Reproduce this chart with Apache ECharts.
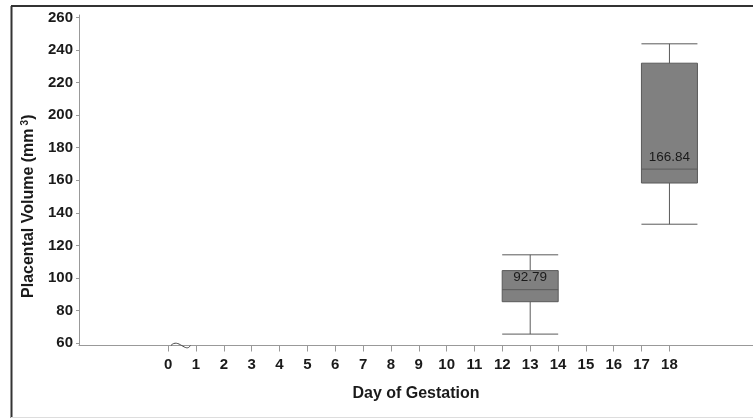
<!DOCTYPE html>
<html>
<head>
<meta charset="utf-8">
<script src="https://cdn.jsdelivr.net/npm/echarts@6/dist/echarts.min.js"></script>
<style>
  html, body { margin: 0; padding: 0; background: #fff; }
  #myChart { width: 753px; height: 418px; }
</style>
</head>
<body>
<div id="myChart"></div>
<script>
// 数据
var days = [13, 18];
var whiskerLow = [65.5, 133];
var q1 = [85.4, 158.3];
var medians = [92.79, 166.84];
var q3 = [104.5, 231.9];
var whiskerHigh = [114.2, 243.8];

var xTicks = [0, 1, 2, 3, 4, 5, 6, 7, 8, 9, 10, 11, 12, 13, 14, 15, 16, 17, 18];
var yTicks = [60, 80, 100, 120, 140, 160, 180, 200, 220, 240, 260];

var boxData = days.map(function (d, i) {
  return [d, whiskerLow[i], q1[i], medians[i], q3[i], whiskerHigh[i]];
});
var medianLabels = days.map(function (d, i) {
  return [d, medians[i]];
});

var myChart = echarts.init(document.getElementById('myChart'));

var FONT = 'Liberation Sans, Arial, sans-serif';
var labelFont = {
  fontFamily: FONT,
  fontWeight: 'bold',
  fontSize: 15,
  color: '#1a1a1a'
};

myChart.setOption({
  animation: false,
  grid: { left: 79, right: 0, top: 15, bottom: 72.5 },
  xAxis: {
    type: 'value',
    min: -3.2,
    max: 21,
    name: 'Day of Gestation',
    nameLocation: 'middle',
    nameGap: 40,
    nameTextStyle: {
      fontFamily: FONT,
      fontWeight: 'bold',
      fontSize: 16,
      color: '#1a1a1a'
    },
    axisLine: { show: true, onZero: false, lineStyle: { color: '#999', width: 1 } },
    axisTick: { show: true, length: 6, customValues: xTicks, lineStyle: { color: '#999' } },
    axisLabel: Object.assign({ customValues: xTicks, margin: 12 }, labelFont),
    splitLine: { show: false }
  },
  yAxis: {
    type: 'value',
    min: 58.5,
    max: 261.5,
    name: 'Placental Volume (mm{sup|3})',
    nameLocation: 'middle',
    nameGap: 42,
    nameTextStyle: {
      fontFamily: FONT,
      fontWeight: 'bold',
      fontSize: 16,
      color: '#1a1a1a',
      padding: [0, 52, 0, 0],
      rich: {
        sup: {
          fontFamily: FONT,
          fontWeight: 'bold',
          fontSize: 10,
          color: '#1a1a1a',
          verticalAlign: 'top',
          padding: [0, 0, 7, 3]
        }
      }
    },
    axisLine: { show: true, onZero: false, lineStyle: { color: '#999', width: 1 } },
    axisTick: { show: true, length: 3, customValues: yTicks, lineStyle: { color: '#999' } },
    axisLabel: Object.assign({ customValues: yTicks, margin: 6 }, labelFont),
    splitLine: { show: false }
  },
  series: [
    {
      type: 'boxplot',
      data: boxData,
      boxWidth: [56, 56],
      itemStyle: { color: '#808080', borderColor: '#5a5a5a', borderWidth: 1 },
      emphasis: { disabled: true }
    },
    {
      type: 'scatter',
      data: medianLabels,
      symbolSize: 0,
      silent: true,
      label: {
        show: true,
        position: 'top',
        distance: 5,
        formatter: function (p) { return p.value[1].toFixed(2); },
        fontFamily: FONT,
        fontSize: 13.5,
        color: '#000'
      }
    }
  ]
});

// 坐标轴断裂符号与外框
function drawDecor() {
  var p = function (x, y) { return myChart.convertToPixel({ xAxisIndex: 0, yAxisIndex: 0 }, [x, y]); };
  var a = p(0.1, 58.5), b = p(0.37, 58.5), c = p(0.63, 58.5), d = p(0.8, 58.5);
  myChart.setOption({
    graphic: [
      {
        type: 'bezierCurve',
        shape: { x1: a[0], y1: a[1], x2: d[0], y2: d[1], cpx1: b[0], cpy1: b[1] - 8, cpx2: c[0], cpy2: c[1] + 8 },
        style: { stroke: '#444', lineWidth: 1, fill: null },
        z: 100
      },
      { type: 'line', shape: { x1: 11, y1: 6, x2: 753, y2: 6 }, style: { stroke: '#333', lineWidth: 2 } },
      { type: 'line', shape: { x1: 11.5, y1: 6, x2: 11.5, y2: 418 }, style: { stroke: '#333', lineWidth: 2 } },
      { type: 'line', shape: { x1: 11, y1: 417.5, x2: 753, y2: 417.5 }, style: { stroke: '#ddd', lineWidth: 1 } }
    ]
  });
}
drawDecor();

window.onresize = function () {
  myChart.resize();
};
</script>
</body>
</html>
